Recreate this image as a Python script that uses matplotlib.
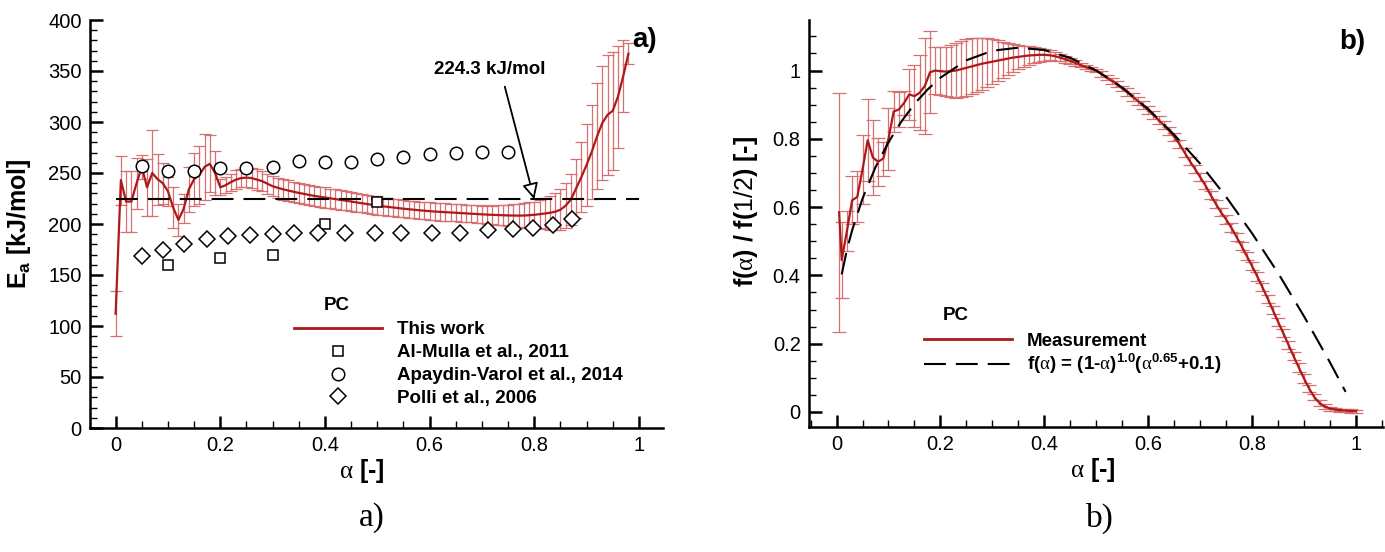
import matplotlib.pyplot as plt
from matplotlib.lines import Line2D
from matplotlib.ticker import MultipleLocator, FuncFormatter
import numpy as np

plt.rcParams['font.family'] = ['Liberation Sans', 'DejaVu Sans']
plt.rcParams['mathtext.fontset'] = 'custom'
plt.rcParams['mathtext.rm'] = 'Liberation Serif'
plt.rcParams['mathtext.bf'] = 'Liberation Sans:bold'
plt.rcParams['mathtext.sf'] = 'Liberation Sans'

RED = '#b01818'
RED_ERR = '#d77070'

# ---- panel a: activation energy vs conversion ----
alpha_a = np.arange(99) / 100.0
ea_mean = [112, 243, 222, 222, 240, 256, 236, 250, 244, 240,
           232, 216, 204, 215, 234, 244, 248, 256, 259, 250,
           236, 238, 241, 243.5, 245, 245.5, 245, 243.5, 242, 239.5,
           237, 235.5, 234, 232.8, 231.6, 230.5, 229.5, 228.5, 227.5, 226.7,
           226, 225.2, 224.4, 223.6, 222.8, 222, 221.2, 220.4, 219.6, 218.8,
           218, 217.4, 216.8, 216.2, 215.6, 215, 214.5, 214, 213.5, 213,
           212.6, 212.2, 211.9, 211.6, 211.3, 211, 210.7, 210.4, 210.1, 209.8,
           209.5, 209.2, 209, 208.8, 208.6, 208.4, 208.3, 208.2, 208.3, 208.6,
           209, 209.6, 210.3, 211, 212, 214, 218, 224, 235, 246,
           258, 271, 286, 299, 307, 311, 325, 345, 367]
ea_err = [22, 24, 30, 30, 25, 12, 28, 42, 25, 20,
          14, 20, 16, 14, 22, 26, 28, 32, 28, 22,
          8, 8, 8.5, 9, 9, 9.5, 10, 10, 10, 10,
          10, 10, 10, 10, 10, 10, 10, 10, 10, 10,
          10, 9.5, 9.5, 9.5, 9.5, 9, 9, 9, 9, 9,
          9, 8.5, 8.5, 8.5, 8.5, 8.5, 8.5, 8.5, 8.5, 8.5,
          8.5, 8.5, 8.5, 8.5, 8.5, 8.5, 8.5, 8.5, 8.5, 8.5,
          8.5, 9, 9, 9.5, 10, 10.5, 11, 11.5, 12, 12.5,
          13, 14, 15, 16.5, 18, 20, 22, 25, 29, 34,
          40, 46, 52, 56, 59, 58, 50, 35, 10]

almulla_x = [0.1, 0.2, 0.3, 0.4, 0.5]
almulla_y = [160, 167, 170, 200, 222]
apaydin_x = [0.05, 0.1, 0.15, 0.2, 0.25, 0.3, 0.35, 0.4, 0.45, 0.5,
             0.55, 0.6, 0.65, 0.7, 0.75]
apaydin_y = [257, 252, 252, 255, 255, 256, 262, 260.5, 261, 263.5,
             266, 268.5, 269.5, 270.5, 271]
polli_x = [0.05, 0.09, 0.13, 0.175, 0.215, 0.257, 0.3, 0.34, 0.387, 0.438,
           0.496, 0.546, 0.605, 0.658, 0.712, 0.76, 0.798, 0.836, 0.873]
polli_y = [169, 174.5, 180, 185, 188, 189, 190, 191, 191, 191.5,
           191, 191, 191, 191.5, 194, 195, 196, 199, 205]
ea_avg = 224.3

# ---- panel b: normalised conversion function ----
alpha_b = np.concatenate([[0.005], np.arange(1, 101) / 100.0])
fb_mean = [0.585, 0.445, 0.53, 0.62, 0.63, 0.71, 0.796, 0.745, 0.733, 0.742,
           0.80, 0.88, 0.886, 0.905, 0.93, 0.925, 0.935, 0.955, 0.995, 1.0,
           0.998, 0.997, 0.998, 1.0, 1.004, 1.008, 1.012, 1.016, 1.02, 1.023,
           1.026, 1.029, 1.032, 1.035, 1.038, 1.04, 1.042, 1.044, 1.045, 1.046,
           1.046, 1.045, 1.042, 1.038, 1.033, 1.028, 1.022, 1.016, 1.01, 1.005,
           1.0, 0.99, 0.98, 0.97, 0.96, 0.948, 0.936, 0.923, 0.911, 0.898,
           0.884, 0.87, 0.855, 0.84, 0.824, 0.806, 0.785, 0.76, 0.735, 0.712,
           0.688, 0.664, 0.636, 0.61, 0.585, 0.564, 0.54, 0.513, 0.485, 0.456,
           0.427, 0.397, 0.365, 0.332, 0.298, 0.264, 0.231, 0.197, 0.163, 0.13,
           0.098, 0.068, 0.043, 0.026, 0.016, 0.01, 0.007, 0.005, 0.004, 0.003,
           0.002]
fb_err = [0.35, 0.11, 0.06, 0.07, 0.075, 0.1, 0.12, 0.11, 0.07, 0.05,
          0.09, 0.06, 0.05, 0.035, 0.075, 0.09, 0.11, 0.14, 0.12, 0.07,
          0.07, 0.072, 0.076, 0.08, 0.082, 0.083, 0.082, 0.08, 0.076, 0.071,
          0.065, 0.059, 0.053, 0.047, 0.041, 0.036, 0.031, 0.027, 0.023, 0.02,
          0.017, 0.015, 0.013, 0.011, 0.01, 0.009, 0.008, 0.007, 0.006, 0.005,
          0.005, 0.008, 0.008, 0.008, 0.008, 0.008, 0.012, 0.012, 0.012, 0.012,
          0.012, 0.012, 0.012, 0.012, 0.012, 0.012, 0.012, 0.012, 0.012, 0.012,
          0.012, 0.012, 0.012, 0.012, 0.012, 0.012, 0.012, 0.012, 0.012, 0.012,
          0.012, 0.012, 0.012, 0.012, 0.012, 0.012, 0.012, 0.012, 0.012, 0.012,
          0.012, 0.01, 0.009, 0.008, 0.007, 0.006, 0.005, 0.005, 0.005, 0.005,
          0.005]

# model f(a) = (1-a)^1.0 (a^0.65 + 0.1), normalised at a = 1/2
model_x = [0.01, 0.02, 0.03, 0.05, 0.075, 0.1, 0.125, 0.15, 0.175, 0.2,
           0.25, 0.3, 0.35, 0.4, 0.45, 0.5, 0.55, 0.6, 0.65, 0.7,
           0.75, 0.8, 0.85, 0.9, 0.95, 0.98]
model_y = [0.403, 0.475, 0.532, 0.625, 0.717, 0.790, 0.851, 0.902, 0.944, 0.979,
           1.030, 1.058, 1.067, 1.060, 1.037, 1.000, 0.950, 0.887, 0.812, 0.727,
           0.630, 0.523, 0.407, 0.280, 0.145, 0.059]

fig = plt.figure(figsize=(13.85, 5.52), dpi=100)
W, H = 1385.0, 552.0
axA = fig.add_axes([90 / W, 1 - 428 / H, 573 / W, 408 / H])
axB = fig.add_axes([809 / W, 1 - 427 / H, 574 / W, 407 / H])

fmt = FuncFormatter(lambda v, p: f'{v:g}')


def style(ax):
    for s in ('top', 'right'):
        ax.spines[s].set_visible(False)
    for s in ('left', 'bottom'):
        ax.spines[s].set_linewidth(1.8)
    ax.tick_params(which='major', direction='in', length=9, width=1.8,
                   labelsize=14.5, pad=6)
    ax.tick_params(which='minor', direction='in', length=5, width=1.0)
    ax.xaxis.set_major_locator(MultipleLocator(0.2))
    ax.xaxis.set_minor_locator(MultipleLocator(0.05))
    ax.xaxis.set_major_formatter(fmt)
    ax.yaxis.set_major_formatter(fmt)


mk = dict(ls='none', mfc='white', mec='black', mew=1.1)

# panel a
axA.errorbar(alpha_a, ea_mean, yerr=ea_err, fmt='none', ecolor=RED_ERR,
             elinewidth=0.9, capsize=4, capthick=0.9, zorder=2)
axA.plot(alpha_a, ea_mean, color=RED, lw=1.6, zorder=3)
axA.plot([0, 1], [ea_avg, ea_avg], color='black', lw=1.5,
         dashes=(10.5, 4.8), zorder=4)
axA.plot(almulla_x, almulla_y, marker='s', ms=7, zorder=5, **mk)
axA.plot(apaydin_x, apaydin_y, marker='o', ms=9, zorder=5, **mk)
axA.plot(polli_x, polli_y, marker='D', ms=8, zorder=5, **mk)

axA.annotate(f'{ea_avg} kJ/mol', xy=(0.8, ea_avg), xytext=(0.714, 351),
             ha='center', va='center', fontsize=13.5, fontweight='bold',
             arrowprops=dict(arrowstyle='-|>', fc='white', ec='black', lw=1.3,
                             mutation_scale=24, relpos=(0.62, 0.0), shrinkA=4,
                             shrinkB=0),
             zorder=6)

style(axA)
axA.set_xlim(-0.049, 1.046)
axA.set_ylim(0, 400)
axA.yaxis.set_major_locator(MultipleLocator(50))
axA.yaxis.set_minor_locator(MultipleLocator(10))
axA.set_xlabel(r'$\mathrm{\alpha}$ [-]', fontsize=18, fontweight='bold')
axA.set_ylabel(r'E$_\mathbf{a}$ [kJ/mol]', fontsize=18, fontweight='bold')
axA.xaxis.set_label_coords(0.475, -0.07)
axA.yaxis.set_label_coords(-0.1, 0.5)

hA = [Line2D([], [], color=RED, lw=2),
      Line2D([], [], marker='s', ms=7, **mk),
      Line2D([], [], marker='o', ms=9, **mk),
      Line2D([], [], marker='D', ms=8, **mk)]
lA = ['This work', 'Al-Mulla et al., 2011', 'Apaydin-Varol et al., 2014',
      'Polli et al., 2006']
axA.legend(hA, lA, loc='upper left', bbox_to_anchor=(0.356, 0.262),
           frameon=False, handlelength=4.7, handletextpad=0.8,
           labelspacing=0.31, borderpad=0, borderaxespad=0,
           prop=dict(family='Liberation Sans', weight='bold', size=13.5))
axA.text(0.423, 120, 'PC', ha='center', va='center', fontsize=13.5,
         fontweight='bold')

# panel b
axB.errorbar(alpha_b, fb_mean, yerr=fb_err, fmt='none', ecolor=RED_ERR,
             elinewidth=0.9, capsize=5, capthick=0.9, zorder=2)
axB.plot(alpha_b, fb_mean, color=RED, lw=1.6, zorder=3)
axB.plot(model_x, model_y, color='black', lw=1.5, dashes=(10.5, 4.8),
         zorder=4)

style(axB)
axB.set_xlim(-0.053, 1.052)
axB.set_ylim(-0.044, 1.148)
axB.yaxis.set_major_locator(MultipleLocator(0.2))
axB.yaxis.set_minor_locator(MultipleLocator(0.05))
axB.set_xlabel(r'$\mathrm{\alpha}$ [-]', fontsize=18, fontweight='bold')
axB.set_ylabel(r'f($\mathrm{\alpha}$) / f($\mathsf{1/2}$) [-]', fontsize=18,
               fontweight='bold')
axB.xaxis.set_label_coords(0.495, -0.072)
axB.yaxis.set_label_coords(-0.085, 0.53)

hB = [Line2D([], [], color=RED, lw=2),
      Line2D([], [], color='black', lw=1.5, dashes=(10.5, 4.8))]
lB = ['Measurement',
      r'f($\mathrm{\alpha}$) = (1-$\mathrm{\alpha}$)$^{\mathbf{1.0}}$'
      r'($\mathrm{\alpha}^{\mathbf{0.65}}$+0.1)']
axB.legend(hB, lB, loc='upper left', bbox_to_anchor=(0.2, 0.232),
           frameon=False, handlelength=4.7, handletextpad=0.8,
           labelspacing=0.1, borderpad=0, borderaxespad=0,
           prop=dict(family='Liberation Sans', weight='bold', size=13.5))
axB.text(0.23, 0.284, 'PC', ha='center', va='center', fontsize=13.5,
         fontweight='bold')

# panel tags and captions
fig.text(645 / W, 1 - 40 / H, 'a)', ha='center', va='center', fontsize=20,
         fontweight='bold')
fig.text(1352 / W, 1 - 42 / H, 'b)', ha='center', va='center', fontsize=20,
         fontweight='bold')
fig.text(372 / W, 1 - 518 / H, 'a)', ha='center', va='center', fontsize=24,
         family='Liberation Serif')
fig.text(1100 / W, 1 - 518 / H, 'b)', ha='center', va='center', fontsize=24,
         family='Liberation Serif')

fig.savefig('out.png', dpi=100)
